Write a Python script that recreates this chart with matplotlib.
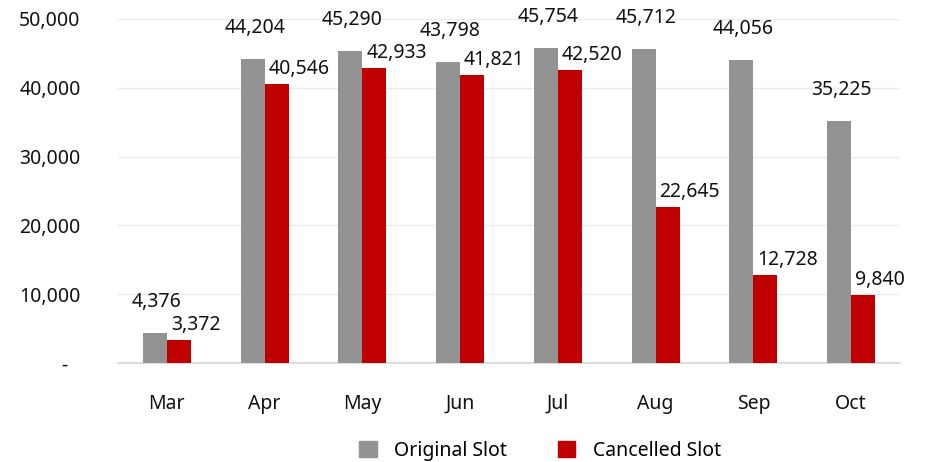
import matplotlib
matplotlib.use("Agg")
import matplotlib.pyplot as plt
import matplotlib.ticker as mticker
from matplotlib.patches import Patch
from matplotlib.transforms import ScaledTranslation
import numpy as np

# Donnees
months = ["Mar", "Apr", "May", "Jun", "Jul", "Aug", "Sep", "Oct"]
original_slot = [4376, 44204, 45290, 43798, 45754, 45712, 44056, 35225]
cancelled_slot = [3372, 40546, 42933, 41821, 42520, 22645, 12728, 9840]
y_ticks = [0, 10000, 20000, 30000, 40000, 50000]

plt.rcParams["font.family"] = ["Noto Sans", "DejaVu Sans"]

color_orig = "#939393"
color_canc = "#C00000"
fs = 14

fig = plt.figure(figsize=(9.26, 4.62), dpi=100)
ax = fig.add_axes([118 / 926, 1 - 363 / 462, (900 - 118) / 926, (363 - 19) / 462])

x = np.arange(len(months))
w = 0.245
bars_o = ax.bar(x - w / 2, original_slot, width=w, color=color_orig, zorder=3)
bars_c = ax.bar(x + w / 2, cancelled_slot, width=w, color=color_canc, zorder=3)

# Etiquettes des valeurs
for b, v in zip(bars_o, original_slot):
    ax.annotate(f"{v:,}", (b.get_x() + b.get_width() / 2, v),
                xytext=(2, 31), textcoords="offset pixels",
                ha="center", va="center", fontsize=fs, color="#111111")
for b, v in zip(bars_c, cancelled_slot):
    ax.annotate(f"{v:,}", (b.get_x(), v),
                xytext=(4, 15), textcoords="offset pixels",
                ha="left", va="center", fontsize=fs, color="#111111")

ax.set_xlim(-0.5, len(months) - 0.5)
ax.set_ylim(0, 50000)
ax.set_xticks(x)
ax.set_xticklabels(months)
ax.set_yticks(y_ticks)
ax.yaxis.set_major_formatter(mticker.FuncFormatter(lambda v, p: "-" if v == 0 else f"{int(v):,}"))
ax.tick_params(axis="both", length=0, labelsize=fs, colors="#111111")
ax.tick_params(axis="x", pad=22)
ax.tick_params(axis="y", pad=27)

# decaler le tiret du zero vers la gauche
zero_lbl = ax.yaxis.get_major_ticks()[0].label1
zero_lbl.set_transform(zero_lbl.get_transform() + ScaledTranslation(-0.13, 0, fig.dpi_scale_trans))

ax.grid(axis="y", color="#EBEBEB", linewidth=1, zorder=0)
for s in ["top", "right", "left"]:
    ax.spines[s].set_visible(False)
ax.spines["bottom"].set_color("#D6D6D6")
ax.spines["bottom"].set_linewidth(1.2)

handles = [Patch(color=color_orig, label="Original Slot"),
           Patch(color=color_canc, label="Cancelled Slot")]
fig.legend(handles=handles, loc="center", bbox_to_anchor=(540 / 926, 1 - 451 / 462),
           ncol=2, frameon=False, fontsize=fs, handlelength=0.9, handleheight=0.9,
           handletextpad=0.9, columnspacing=2.6)

fig.savefig("out.png", dpi=100)
